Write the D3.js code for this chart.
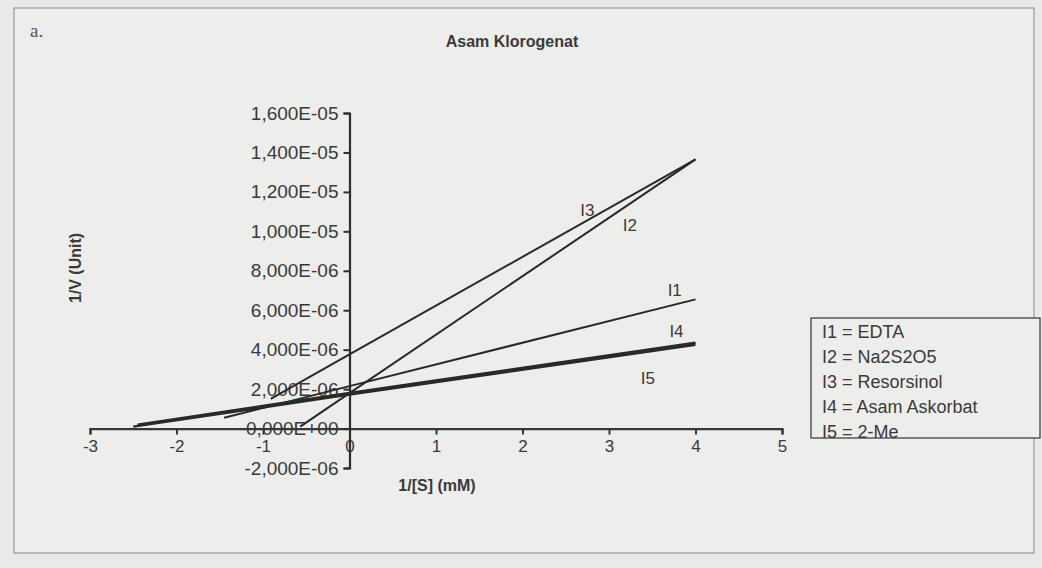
<!DOCTYPE html>
<html>
<head>
<meta charset="utf-8">
<script src="https://cdn.jsdelivr.net/npm/d3@7"></script>
<style>
  body { margin: 0; background: #e9e9e7; }
  svg { display: block; font-family: Arial, "Liberation Sans", sans-serif; }
</style>
</head>
<body>
<svg width="1042" height="568"></svg>
<script>
// series: [1/[S], 1/V] points
const seriesNames = ["I1", "I2", "I3", "I4", "I5"];
const i1 = [[-1.45, 0.55e-6], [0, 2.15e-6], [4, 6.55e-6]];
const i2 = [[-0.57, 0.1e-6], [0, 1.8e-6], [4, 13.65e-6]];
const i3 = [[-0.91, 1.5e-6], [0, 3.76e-6], [4, 13.65e-6]];
const i4 = [[-2.45, 0.2e-6], [0, 1.8e-6], [4, 4.35e-6]];
const i5 = [[-2.5, 0.1e-6], [0, 1.72e-6], [4, 4.25e-6]];
// where the I1..I5 tags sit, in data units
const tagAt = [[3.76, 7.0e-6], [3.24, 10.3e-6], [2.75, 11.1e-6], [3.78, 4.95e-6], [3.45, 2.55e-6]];
const legendText = ["I1 = EDTA", "I2 = Na2S2O5", "I3 = Resorsinol", "I4 = Asam Askorbat", "I5 = 2-Me"];
const xTicks = [-3, -2, -1, 0, 1, 2, 3, 4, 5];
const yTicks = [-2e-6, 0, 2e-6, 4e-6, 6e-6, 8e-6, 10e-6, 12e-6, 14e-6, 16e-6];

const allSeries = [i1, i2, i3, i4, i5];

var svg = d3.select("svg");

// paper frame
svg.append("rect")
  .attr("x", 14).attr("y", 8)
  .attr("width", 1020).attr("height", 545)
  .attr("fill", "#ededeb")
  .attr("stroke", "#8a8a88")
  .attr("stroke-width", 1);

svg.append("text")
  .attr("x", 30).attr("y", 37)
  .style("font-family", "'Liberation Serif', 'DejaVu Serif', serif")
  .style("font-size", "19px")
  .attr("fill", "#555")
  .text("a.");

svg.append("text")
  .attr("x", 512).attr("y", 47)
  .attr("text-anchor", "middle")
  .style("font-size", "16px")
  .style("font-weight", "bold")
  .attr("fill", "#3a3a3a")
  .text("Asam Klorogenat");

var x = d3.scaleLinear().domain([-3, 5]).range([90, 782]);
var y = d3.scaleLinear().domain([-2e-6, 16e-6]).range([468, 113]);

// excel style 0,000E+00
function sci(v) {
  if (v === 0) return "0,000E+00";
  var e = Math.floor(Math.log10(Math.abs(v)) + 1e-9);
  var m = v / Math.pow(10, e);
  var s = m.toFixed(3).replace(".", ",");
  return s + "E" + (e < 0 ? "-" : "+") + String(Math.abs(e)).padStart(2, "0");
}

var lineColor = "#262b26";

// x axis sits on y = 0
var xAxis = svg.append("g")
  .attr("transform", "translate(0," + y(0) + ")")
  .call(d3.axisBottom(x).tickValues(xTicks).tickSize(6).tickPadding(5).tickFormat(d3.format("d")));
xAxis.select(".domain").attr("stroke", "#343a30").attr("stroke-width", 2.2);
xAxis.selectAll(".tick line").attr("stroke", "#343a30").attr("stroke-width", 2);
xAxis.selectAll(".tick text")
  .style("font-size", "17px")
  .attr("fill", "#3a3a3a")
  .text(d => d < 0 ? "-" + Math.abs(d) : d);

// y axis sits on x = 0
var yAxis = svg.append("g")
  .attr("transform", "translate(" + x(0) + ",0)")
  .call(d3.axisLeft(y).tickValues(yTicks).tickSize(6).tickPadding(5).tickFormat(sci));
yAxis.select(".domain").attr("stroke", "#2e2e2e").attr("stroke-width", 2.2);
yAxis.selectAll(".tick line").attr("stroke", "#2e2e2e").attr("stroke-width", 2);
yAxis.selectAll(".tick text")
  .style("font-size", "19px")
  .attr("fill", "#3a3a3a");

// the lines
var line = d3.line().x(d => x(d[0])).y(d => y(d[1]));
svg.append("g")
  .selectAll("path")
  .data(allSeries)
  .enter()
  .append("path")
  .attr("d", line)
  .attr("fill", "none")
  .attr("stroke", lineColor)
  .attr("stroke-width", (d, i) => i >= 3 ? 2.4 : 2);

// tags beside the lines
svg.append("g")
  .selectAll("text")
  .data(seriesNames)
  .enter()
  .append("text")
  .attr("x", (d, i) => x(tagAt[i][0]))
  .attr("y", (d, i) => y(tagAt[i][1]))
  .attr("text-anchor", "middle")
  .attr("dy", "0.35em")
  .style("font-size", "17px")
  .attr("fill", "#3a3a3a")
  .text(d => d);

// axis titles
svg.append("text")
  .attr("x", 437).attr("y", 491)
  .attr("text-anchor", "middle")
  .style("font-size", "16px")
  .style("font-weight", "bold")
  .attr("fill", "#3a3a3a")
  .text("1/[S] (mM)");

svg.append("text")
  .attr("transform", "translate(81,268) rotate(-90)")
  .attr("text-anchor", "middle")
  .style("font-size", "16px")
  .style("font-weight", "bold")
  .attr("fill", "#3a3a3a")
  .text("1/V (Unit)");

// legend
var legend = svg.append("g").attr("transform", "translate(811,318)");
legend.append("rect")
  .attr("width", 229).attr("height", 120)
  .attr("fill", "#ededeb")
  .attr("stroke", "#333")
  .attr("stroke-width", 1.2);
legend.selectAll("text")
  .data(legendText)
  .enter()
  .append("text")
  .attr("x", 11)
  .attr("y", (d, i) => 20 + i * 25)
  .style("font-size", "18px")
  .attr("fill", "#3a3a3a")
  .text(d => d);
</script>
</body>
</html>
